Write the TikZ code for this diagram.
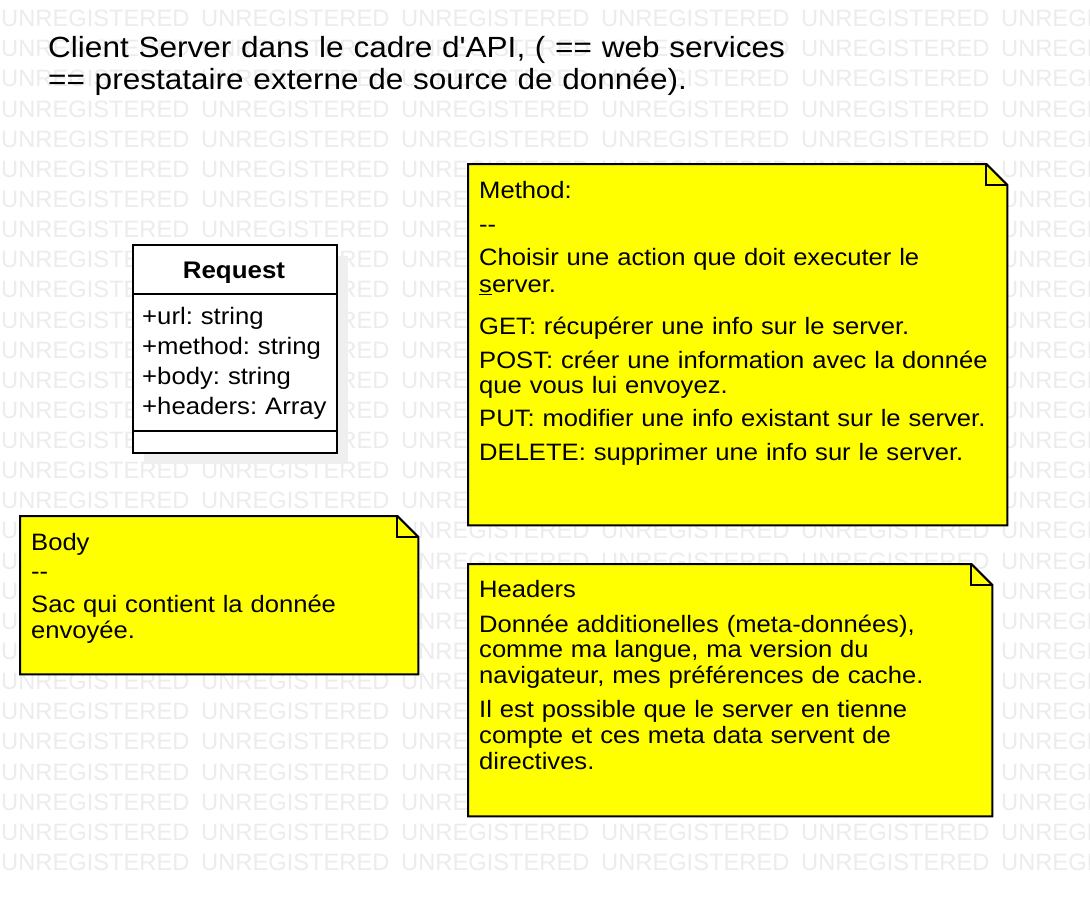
\documentclass[tikz,border=0pt]{standalone}
\usepackage{fontspec}
\newfontfamily\lsans{Liberation Sans}[FakeStretch=1.08]
\newfontfamily\wmsans{Liberation Sans}
\pgfdeclarelayer{wm}
\pgfdeclarelayer{shapes}
\pgfsetlayers{wm,shapes,main}
\definecolor{noteyellow}{HTML}{FFFF00}
\definecolor{wmgray}{HTML}{ECECEC}
\definecolor{shadowgray}{HTML}{EFEFEF}
\newcommand\wmword{\makebox[200pt][l]{UNREGISTERED}}
\tikzset{
  wmtext/.style={anchor=base west, inner sep=0pt, text=wmgray, font=\wmsans\fontsize{23.7}{23.7}\selectfont},
  notearea/.style={anchor=north west, inner sep=0pt, draw=none},
  notepoly/.style={draw=black, line width=2pt, fill=noteyellow, line join=miter},
  foldline/.style={draw=black, line width=2pt, line join=miter},
  notetext/.style={anchor=north west, inner sep=0pt, align=left, text width=560pt, font=\lsans\frenchspacing\fontsize{23.7}{26}\selectfont},
  classbox/.style={anchor=north west, inner sep=0pt, draw=black, line width=2pt, fill=white},
  classname/.style={anchor=base, inner sep=0pt, font=\lsans\bfseries\fontsize{24}{28}\selectfont},
  attrtext/.style={anchor=north west, inner sep=0pt, align=left, text width=220pt, font=\lsans\frenchspacing\fontsize{23.8}{30}\selectfont},
  titletext/.style={anchor=north west, inner sep=0pt, align=left, text width=1000pt, font=\lsans\frenchspacing\fontsize{29.2}{32}\selectfont},
}
\newcommand\foldednote[1]{%
  \begin{pgfonlayer}{shapes}
    \draw[notepoly] (#1.north west) -- ([xshift=-21pt]#1.north east) -- ([yshift=-21pt]#1.north east) -- (#1.south east) -- (#1.south west) -- cycle;
    \draw[foldline] ([xshift=-21pt]#1.north east) -- ([xshift=-21pt,yshift=-21pt]#1.north east) -- ([yshift=-21pt]#1.north east);
  \end{pgfonlayer}}
\begin{document}
\begin{tikzpicture}[x=1pt, y=-1pt]
\useasboundingbox (0,0) rectangle (1090,898);
% watermark
\begin{pgfonlayer}{wm}
  \fill[white] (0,0) rectangle (1090,898);
  \begin{scope}
    \clip (0,0) rectangle (1090,898);
    \foreach \i in {0,...,28} {
      \node[wmtext] (wm\i) at (1, {26.6+30.14*\i}) {\wmword\wmword\wmword\wmword\wmword\wmword};
    }
  \end{scope}
\end{pgfonlayer}

% title
\node[titletext] (title) at (48, 31) {\noindent\rule{0pt}{26pt}Client Server dans le cadre d'API, ( == web services\\== prestataire externe de source de donnée).};

% class Request
\begin{pgfonlayer}{shapes}
  \fill[shadowgray] (144,256) rectangle (348,464);
\end{pgfonlayer}
\node[classbox, minimum width=204pt, minimum height=208pt] (req) at (132,244) {};
\draw[line width=2pt] ([yshift=-50pt]req.north west) -- ([yshift=-50pt]req.north east);
\draw[line width=2pt] ([yshift=-187pt]req.north west) -- ([yshift=-187pt]req.north east);
\node[classname] (reqname) at (234,278) {Request};
\node[attrtext] (reqattr) at (142,302) {\noindent\rule{0pt}{22pt}+url: string\\+method: string\\+body: string\\+headers: Array};

% Method note
\node[notearea, minimum width=539pt, minimum height=361pt] (method) at (468,164) {};
\foldednote{method}
\node[notetext] (methodtxt) at (479,175) {\noindent\rule{0pt}{23pt}Method:\\[8pt]--\\[7pt]Choisir une action que doit executer le\\[1pt]\underline{s}erver.\\[16pt]GET: récupérer une info sur le server.\\[8pt]POST: créer une information avec la donnée\\[-1pt]que vous lui envoyez.\\[7pt]PUT: modifier une info existant sur le server.\\[8pt]DELETE: supprimer une info sur le server.};

% Body note
\node[notearea, minimum width=398pt, minimum height=158pt] (body) at (20,516) {};
\foldednote{body}
\node[notetext] (bodytxt) at (31,527) {\noindent\rule{0pt}{23pt}Body\\[3pt]--\\[7pt]Sac qui contient la donnée\\envoyée.};

% Headers note
\node[notearea, minimum width=524pt, minimum height=252pt] (headers) at (468,564) {};
\foldednote{headers}
\node[notetext] (headerstxt) at (479,574) {\noindent\rule{0pt}{23pt}Headers\\[9pt]Donnée additionelles (meta-données),\\[-1pt]comme ma langue, ma version du\\navigateur, mes préférences de cache.\\[8pt]Il est possible que le server en tienne\\compte et ces meta data servent de\\directives.};
\end{tikzpicture}
\end{document}
